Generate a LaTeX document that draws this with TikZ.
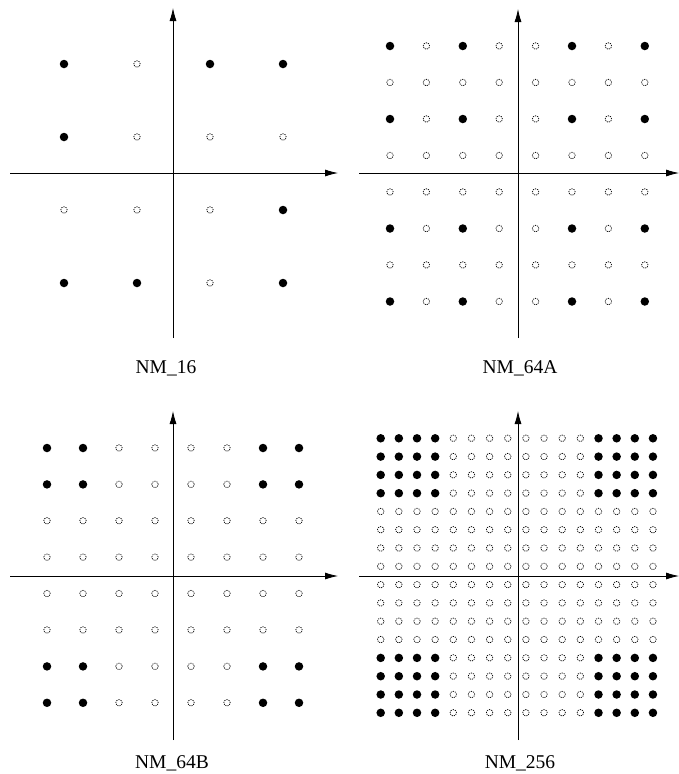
\documentclass[tikz,border=0pt]{standalone}
\usepackage{fontspec}
\setmainfont{Liberation Serif}
\usetikzlibrary{arrows.meta}

\begin{document}
\begin{tikzpicture}[x=1pt, y=-1pt,
    dotfull/.style={circle, fill=black, inner sep=0pt, minimum size=8.5pt},
    dothollow/.style={circle, draw, dash pattern=on 1.2pt off 1pt, line width=0.7pt, inner sep=0pt, minimum size=6.5pt},
    axis/.style={-{Latex[length=13pt, width=7pt]}, line width=0.8pt},
    caption/.style={font=\fontsize{19.5}{22}\selectfont}
]
    \useasboundingbox (0,0) rectangle (679,774);

    % NM_16
    \coordinate (h16w) at (10,173);
    \coordinate (h16e) at (338,173);
    \coordinate (v16s) at (173,338);
    \coordinate (v16n) at (173,8);
    \draw [axis] (h16w) -- (h16e);
    \draw [axis] (v16s) -- (v16n);
    \foreach \r/\row in {1/{1,0,1,1}, 2/{1,0,0,0}, 3/{0,0,0,1}, 4/{1,1,0,1}} {
        \foreach \f [count=\c] in \row {
            \ifnum\f=1 \def\sty{dotfull}\else\def\sty{dothollow}\fi
            \node [\sty] (p16-\r-\c) at ({64+73*(\c-1)},{64+73*(\r-1)}) {};
        }
    }
    \node (lab16) [caption] at (166,368) {NM\_16};

    % NM_64A
    \coordinate (h64aw) at (359,173);
    \coordinate (h64ae) at (679,173);
    \coordinate (v64as) at (518,338);
    \coordinate (v64an) at (518,9);
    \draw [axis] (h64aw) -- (h64ae);
    \draw [axis] (v64as) -- (v64an);
    \foreach \r in {1,...,8} {
        \foreach \c in {1,...,8} {
            \pgfmathtruncatemacro\f{(\r==1||\r==3||\r==6||\r==8)&&(\c==1||\c==3||\c==6||\c==8)}
            \ifnum\f=1 \def\sty{dotfull}\else\def\sty{dothollow}\fi
            \node [\sty] (p64a-\r-\c) at ({390+36.4*(\c-1)},{46+36.5*(\r-1)}) {};
        }
    }
    \node (lab64a) [caption] at (520,368) {NM\_64A};

    % NM_64B
    \coordinate (h64bw) at (10,576);
    \coordinate (h64be) at (338,576);
    \coordinate (v64bs) at (173,740);
    \coordinate (v64bn) at (173,411);
    \draw [axis] (h64bw) -- (h64be);
    \draw [axis] (v64bs) -- (v64bn);
    \foreach \r in {1,...,8} {
        \foreach \c in {1,...,8} {
            \pgfmathtruncatemacro\f{(\r<3||\r>6)&&(\c<3||\c>6)}
            \ifnum\f=1 \def\sty{dotfull}\else\def\sty{dothollow}\fi
            \node [\sty] (p64b-\r-\c) at ({47+36*(\c-1)},{448+36.4*(\r-1)}) {};
        }
    }
    \node (lab64b) [caption] at (172,763) {NM\_64B};

    % NM_256
    \coordinate (h256w) at (359,576);
    \coordinate (h256e) at (679,576);
    \coordinate (v256s) at (518,740);
    \coordinate (v256n) at (518,411);
    \draw [axis] (h256w) -- (h256e);
    \draw [axis] (v256s) -- (v256n);
    \foreach \r in {1,...,16} {
        \foreach \c in {1,...,16} {
            \pgfmathtruncatemacro\f{(\r<5||\r>12)&&(\c<5||\c>12)}
            \ifnum\f=1 \def\sty{dotfull}\else\def\sty{dothollow}\fi
            \node [\sty] (p256-\r-\c) at ({380.7+18.15*(\c-1)},{438.3+18.3*(\r-1)}) {};
        }
    }
    \node (lab256) [caption] at (520,763) {NM\_256};
\end{tikzpicture}
\end{document}
